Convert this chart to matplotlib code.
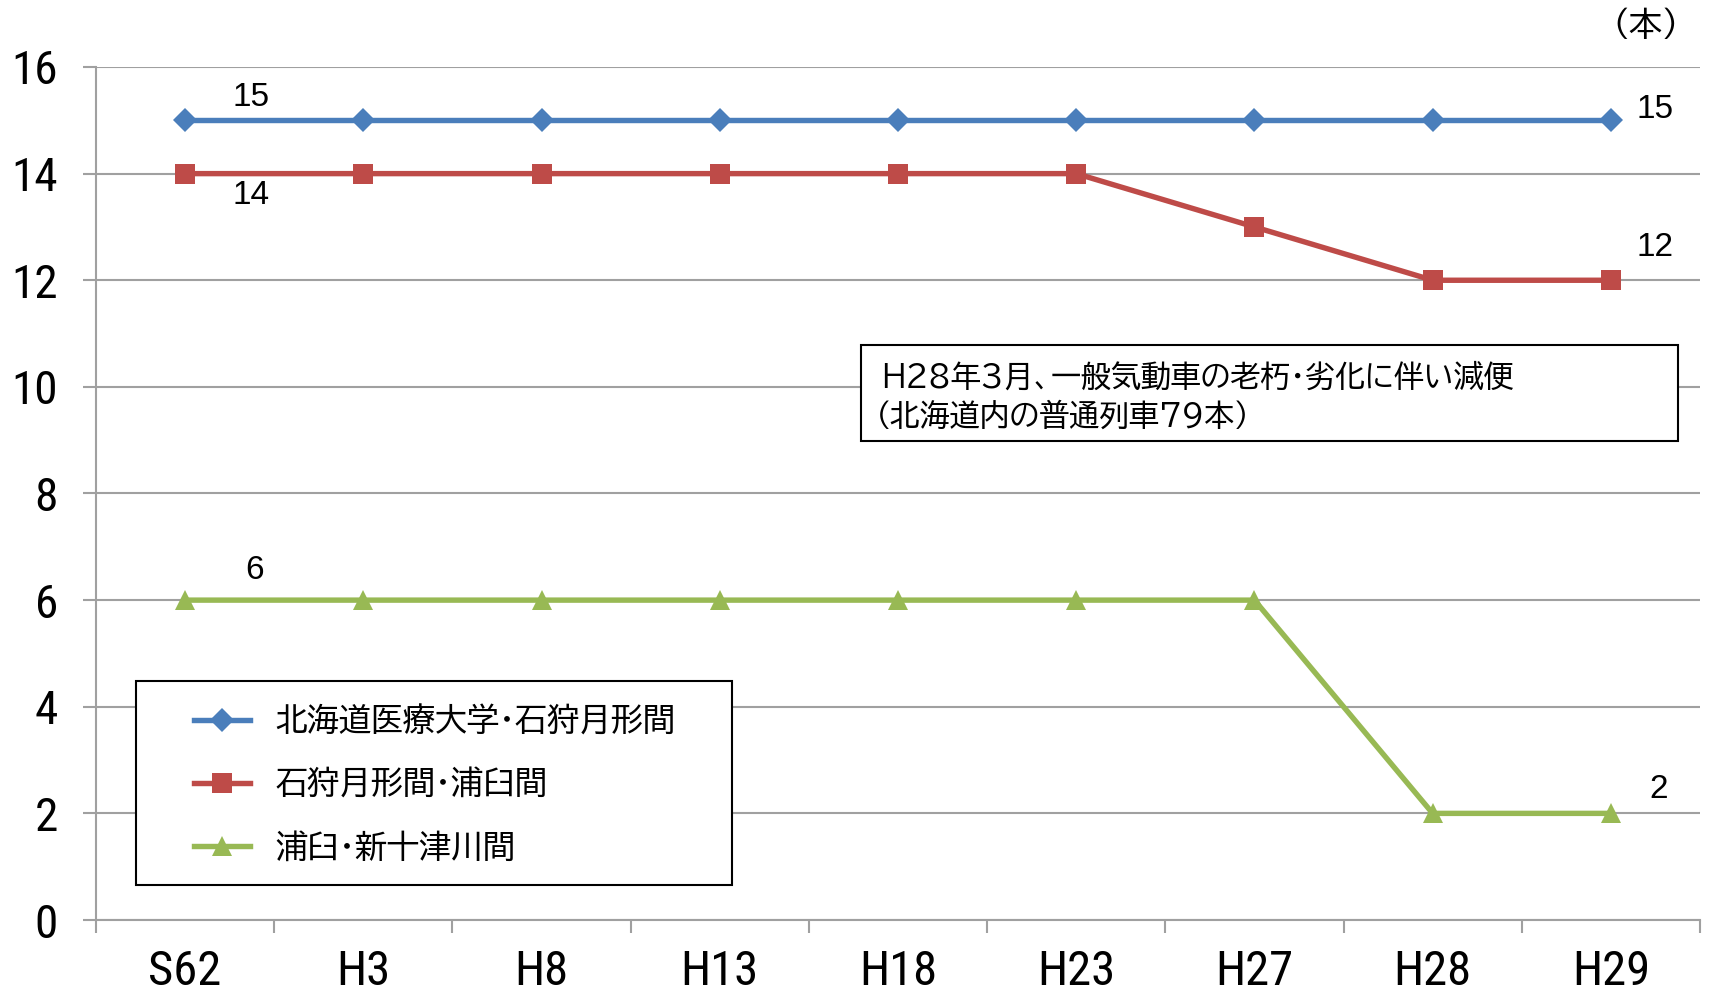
import matplotlib
matplotlib.use("Agg")
import matplotlib.pyplot as plt
from matplotlib.patches import Rectangle

categories = ["S62", "H3", "H8", "H13", "H18", "H23", "H27", "H28", "H29"]
series_names = ["北海道医療大学・石狩月形間", "石狩月形間・浦臼間", "浦臼・新十津川間"]
blue_vals = [15, 15, 15, 15, 15, 15, 15, 15, 15]
red_vals = [14, 14, 14, 14, 14, 14, 13, 12, 12]
green_vals = [6, 6, 6, 6, 6, 6, 6, 2, 2]
yticks = [0, 2, 4, 6, 8, 10, 12, 14, 16]
note_lines = ["H28年3月、一般気動車の老朽・劣化に伴い減便", "（北海道内の普通列車79本）"]
unit_label = "（本）"

CJK = ["BIZ UDPGothic", "Noto Sans CJK JP", "DejaVu Sans"]
NARROW = ["Roboto Condensed", "Liberation Sans", "DejaVu Sans"]
NUM = ["Liberation Sans", "DejaVu Sans"]

colors = ["#4a7ebb", "#be4b48", "#98b954"]
markers = ["D", "s", "^"]
msizes = [12.5, 15, 15]

fig = plt.figure(figsize=(17.09, 9.94), dpi=100)
ax = fig.add_axes([96/1709, 1-920/994, (1700-96)/1709, (920-67)/994])

x = list(range(len(categories)))
all_vals = [blue_vals, red_vals, green_vals]
for vals, c, m, ms, name in zip(all_vals, colors, markers, msizes, series_names):
    ax.plot(x, vals, color=c, lw=3.9, marker=m, markersize=ms,
            markeredgewidth=0, label=name, zorder=5, clip_on=False)

# data labels
px = 0.72
label_offsets = [
    ((66, 23), (44, 11)),
    ((66, -22), (44, 33)),
    ((69, 30), (48, 24)),
]
for vals, (o0, o1) in zip(all_vals, label_offsets):
    ax.annotate(str(vals[0]), (0, vals[0]), xytext=(o0[0]*px, o0[1]*px),
                textcoords="offset points", ha="center", va="center",
                fontsize=24, family=NUM, zorder=6)
    ax.annotate(str(vals[-1]), (len(vals)-1, vals[-1]), xytext=(o1[0]*px, o1[1]*px),
                textcoords="offset points", ha="center", va="center",
                fontsize=24, family=NUM, zorder=6)

ax.set_xlim(-0.5, len(categories)-0.5)
ax.set_ylim(0, 16)
ax.set_yticks(yticks)
ax.set_yticklabels([str(v) for v in yticks], family=NARROW, fontsize=34)
ax.grid(axis="y", color="#a0a0a0", lw=1.5, zorder=0)
ax.set_axisbelow(True)
ax.tick_params(axis="y", length=9.4, width=1.5, color="#a0a0a0", pad=18)

ax.set_xticks([i - 0.5 for i in range(len(categories)+1)])
ax.set_xticklabels([])
ax.set_xticks(x, minor=True)
ax.set_xticklabels(categories, minor=True, family=NARROW, fontsize=35)
ax.tick_params(axis="x", which="major", length=9.4, width=1.5, color="#a0a0a0", direction="out")
ax.tick_params(axis="x", which="minor", length=0, pad=21)

for s in ["top", "right"]:
    ax.spines[s].set_visible(False)
for s in ["left", "bottom"]:
    ax.spines[s].set_color("#a0a0a0")
    ax.spines[s].set_linewidth(1.5)

# note box
bx0, bx1 = (861-96)/1604, (1678-96)/1604
by0, by1 = (920-441)/853, (920-345)/853
ax.add_patch(Rectangle((bx0, by0), bx1-bx0, by1-by0, transform=ax.transAxes,
                       facecolor="white", edgecolor="black", lw=1.5, zorder=7))
ax.text((881-96)/1604, (920-376)/853, note_lines[0], transform=ax.transAxes,
        family=CJK, fontsize=21.5, va="center", ha="left", zorder=8)
ax.text((876-96)/1604, (920-415)/853, note_lines[1], transform=ax.transAxes,
        family=CJK, fontsize=21.5, va="center", ha="left", zorder=8)

# legend
lx0, lx1 = (136-96)/1604, (732-96)/1604
ly0, ly1 = (920-885)/853, (920-681)/853
ax.add_patch(Rectangle((lx0, ly0), lx1-lx0, ly1-ly0, transform=ax.transAxes,
                       facecolor="white", edgecolor="black", lw=1.5, zorder=7))
handles, labels = ax.get_legend_handles_labels()
leg = ax.legend(handles, labels, loc="center left",
                bbox_to_anchor=((194-96)/1604, (920-783)/853),
                frameon=False, prop={"family": CJK, "size": 23},
                handlelength=1.75, handletextpad=0.8, labelspacing=1.0,
                borderpad=0, borderaxespad=0)
leg.set_zorder(8)

fig.text(1646/1709, 1-24/994, unit_label, family=CJK, fontsize=24, ha="center", va="center")

fig.savefig("out.png", dpi=100, facecolor="white")
